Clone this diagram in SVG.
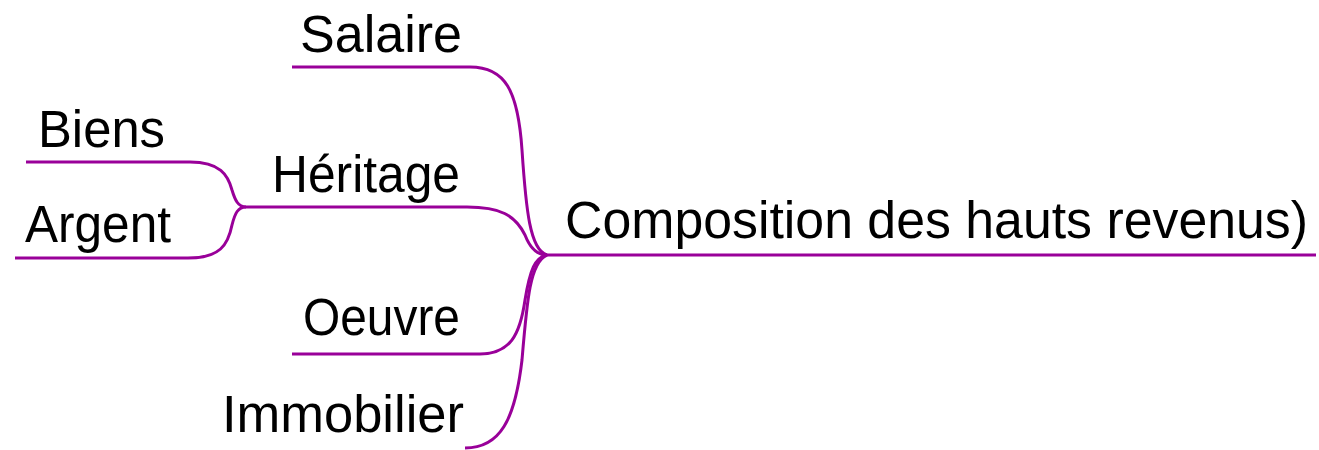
<svg xmlns="http://www.w3.org/2000/svg" width="1319" height="450" viewBox="0 0 1319 450">
<style>
.t{font-family:"Liberation Sans",Arial,sans-serif;font-size:51px;fill:#000}
.c{fill:none;stroke:#990099;stroke-width:3;stroke-linecap:butt}
</style>
<rect width="1319" height="450" fill="#fff"/>
<g id="connectors">
<path class="c" d="M545,255 H1316"/>
<path class="c" d="M292,67 L470,67 C505,67 518,90 522,150 C526,210 530,250 547,255"/>
<path class="c" d="M246,207 L467,207 C500,207 515,215 525,235 C530,248 538,255 547,255"/>
<path class="c" d="M292,354 L480,354 C510,354 520,335 525,300 C530,270 535,257 547,255"/>
<path class="c" d="M465,448 C500,448 515,420 522,360 C527,300 530,262 547,255"/>
<path class="c" d="M26,162 L190,162 C220,162 228,175 232,190 C235,200 238,207 246,207"/>
<path class="c" d="M15,258 L188,258 C220,258 228,245 232,225 C235,213 238,207 246,207"/>
</g>
<g id="root"><text class="t" x="565" y="238" textLength="743" lengthAdjust="spacingAndGlyphs">Composition des hauts revenus)</text></g>
<g id="salaire"><text class="t" x="300" y="52" textLength="162" lengthAdjust="spacingAndGlyphs">Salaire</text></g>
<g id="heritage"><text class="t" x="272" y="192" textLength="188" lengthAdjust="spacingAndGlyphs">Héritage</text></g>
<g id="oeuvre"><text class="t" x="303" y="335" textLength="157" lengthAdjust="spacingAndGlyphs">Oeuvre</text></g>
<g id="immobilier"><text class="t" x="222" y="432" textLength="242" lengthAdjust="spacingAndGlyphs">Immobilier</text></g>
<g id="biens"><text class="t" x="38" y="147" textLength="127" lengthAdjust="spacingAndGlyphs">Biens</text></g>
<g id="argent"><text class="t" x="25" y="242" textLength="146" lengthAdjust="spacingAndGlyphs">Argent</text></g>
</svg>
